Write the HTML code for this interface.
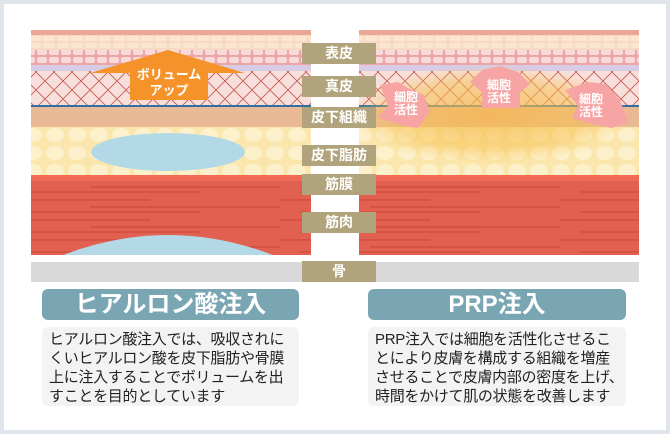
<!DOCTYPE html>
<html><head><meta charset="utf-8"><style>
html,body{margin:0;padding:0;}
body{width:670px;height:434px;background:#dfe5ea;position:relative;overflow:hidden;font-family:"Liberation Sans","Noto Sans CJK JP",sans-serif;}
.in{position:absolute;left:4px;top:4px;width:662px;height:426px;background:#fff;}
.lab{position:absolute;left:302px;width:74px;background:#b1a47c;color:#fff;font-size:14px;font-weight:bold;text-align:center;line-height:21px;height:21px;}
.hd{position:absolute;top:289px;height:31px;background:#7aa6b3;border-radius:6px;color:#fff;font-size:24px;font-weight:bold;text-align:center;line-height:31px;}
.tx{position:absolute;top:327px;height:79px;background:#f3f3f3;border-radius:6px;color:#222;font-size:15px;line-height:19px;padding:3px 0 0 7px;box-sizing:border-box;white-space:nowrap;letter-spacing:-0.3px;}
</style></head><body>
<div class="in"></div>
<svg width="670" height="434" style="position:absolute;left:0;top:0">
<defs>
<pattern id="cells" width="14" height="7" patternUnits="userSpaceOnUse"><rect width="14" height="7" fill="#f7d9c4"/><rect x="1" y="1" width="12" height="5" rx="2" fill="#fbe6cf"/></pattern>
<pattern id="pcells" width="12" height="8" patternUnits="userSpaceOnUse"><rect width="12" height="8" fill="#eaa6a6"/><rect x="1" y="1" width="10" height="6" rx="2" fill="#f8dada"/></pattern>
<pattern id="derm" width="18" height="18" patternUnits="userSpaceOnUse"><rect width="18" height="18" fill="#f7e0dc"/><path d="M0 0L18 18M18 0L0 18" stroke="#c9554a" stroke-width="0.8"/></pattern>
<pattern id="fat" width="22" height="18" patternUnits="userSpaceOnUse"><rect width="22" height="18" fill="#fbe7ae"/><ellipse cx="11" cy="9" rx="9" ry="7" fill="#fdf1cc"/></pattern>
<pattern id="mus" x="0" y="175" width="280" height="20" patternUnits="userSpaceOnUse"><rect width="280" height="20" fill="#e2604f"/><path d="M0 5H150M90 12H280M20 17H200" stroke="#c9463a" stroke-width="1"/></pattern>
<radialGradient id="glow"><stop offset="0" stop-color="#f7b84a" stop-opacity="0.75"/><stop offset="0.7" stop-color="#f7c14f" stop-opacity="0.5"/><stop offset="1" stop-color="#f7c860" stop-opacity="0"/></radialGradient>
</defs>
<g>
<rect x="31" y="30" width="280" height="5" fill="#eba796"/>
<rect x="31" y="35" width="280" height="15" fill="url(#cells)"/>
<rect x="31" y="50" width="280" height="15" fill="url(#pcells)"/>
<rect x="31" y="65" width="280" height="6" fill="#d8cbe6"/>
<rect x="31" y="71" width="280" height="36" fill="url(#derm)"/>
<rect x="31" y="105" width="280" height="2" fill="#2f6ea0"/>
<rect x="31" y="107" width="280" height="20" fill="#e9b894"/>
<rect x="31" y="127" width="280" height="48" fill="url(#fat)"/>
<rect x="31" y="175" width="280" height="80" fill="url(#mus)"/>
<rect x="31" y="175" width="280" height="6" fill="#f06a55"/>
<ellipse cx="168" cy="152" rx="77" ry="19" fill="#b3d8e6"/>
<path d="M63 255 Q168 215 273 255Z" fill="#b3d8e6"/>
<rect x="31" y="262" width="280" height="20" fill="#d9d9d9"/>
<path d="M168 50 L245 73 L208 73 L208 100 L130 100 L130 73 L90 73Z" fill="#f5922a"/>
<text x="169" y="79" font-size="13" font-weight="bold" fill="#fff" text-anchor="middle" font-family="Noto Sans CJK JP,sans-serif">ボリューム</text>
<text x="169" y="95" font-size="13" font-weight="bold" fill="#fff" text-anchor="middle" font-family="Noto Sans CJK JP,sans-serif">アップ</text>
</g>
<g>
<rect x="359" y="30" width="280" height="5" fill="#eba796"/>
<rect x="359" y="35" width="280" height="15" fill="url(#cells)"/>
<rect x="359" y="50" width="280" height="15" fill="url(#pcells)"/>
<rect x="359" y="65" width="280" height="6" fill="#d8cbe6"/>
<rect x="359" y="71" width="280" height="36" fill="url(#derm)"/>
<rect x="359" y="105" width="280" height="2" fill="#2f6ea0"/>
<rect x="359" y="107" width="280" height="20" fill="#e9b894"/>
<rect x="359" y="127" width="280" height="48" fill="url(#fat)"/>
<ellipse cx="490" cy="115" rx="140" ry="50" fill="url(#glow)"/>
<rect x="359" y="175" width="280" height="80" fill="url(#mus)"/>
<rect x="359" y="175" width="280" height="6" fill="#f06a55"/>
<rect x="359" y="262" width="280" height="20" fill="#d9d9d9"/>
<g fill="#f6a5a4">
<path d="M380 85 L398 82 L408 88 L424 95 L430 112 L418 128 L404 126 L378 118 L388 106Z"/>
<path d="M470 82 L482 70 L500 66 L518 72 L530 84 L520 92 L520 108 L482 108 L482 92Z"/>
<path d="M565 90 L588 82 L606 84 L620 100 L628 122 L612 128 L596 125 L572 118 L578 106Z"/>
</g>
<g font-size="12" font-weight="bold" fill="#fff" text-anchor="middle" font-family="Noto Sans CJK JP,sans-serif">
<text x="406" y="101">細胞</text><text x="406" y="114">活性</text>
<text x="499" y="89">細胞</text><text x="499" y="102">活性</text>
<text x="591" y="103">細胞</text><text x="591" y="116">活性</text>
</g>
</g>
</svg>
<div class="lab" style="top:43px">表皮</div>
<div class="lab" style="top:76px">真皮</div>
<div class="lab" style="top:107px">皮下組織</div>
<div class="lab" style="top:145px">皮下脂肪</div>
<div class="lab" style="top:174px">筋膜</div>
<div class="lab" style="top:212px">筋肉</div>
<div class="lab" style="top:261px">骨</div>
<div class="hd" style="left:42px;width:257px">ヒアルロン酸注入</div>
<div class="hd" style="left:368px;width:258px">PRP注入</div>
<div class="tx" style="left:42px;width:257px">ヒアルロン酸注入では、吸収されに<br>くいヒアルロン酸を皮下脂肪や骨膜<br>上に注入することでボリュームを出<br>すことを目的としています</div>
<div class="tx" style="left:368px;width:258px">PRP注入では細胞を活性化させるこ<br>とにより皮膚を構成する組織を増産<br>させることで皮膚内部の密度を上げ、<br>時間をかけて肌の状態を改善します</div>
</body></html>
